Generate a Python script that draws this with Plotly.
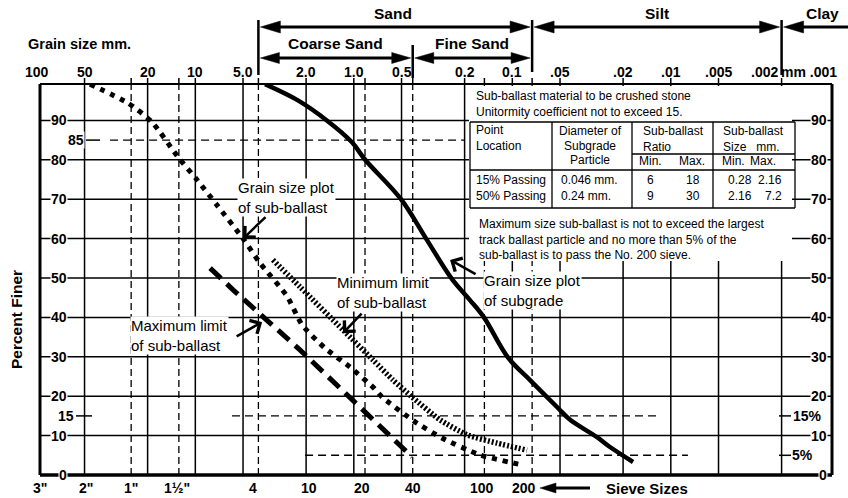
import numpy as np
import plotly.graph_objects as go

FONT = "Liberation Sans, Arial, Helvetica, sans-serif"

# ---------------- data ----------------
# Grain-size scale across the top (mm)
grain_mm = [100, 50, 20, 10, 5, 2, 1, 0.5, 0.2, 0.1, 0.05, 0.02, 0.01, 0.005, 0.002]
grain_labels = ["100", "50", "20", "10", "5.0", "2.0", "1.0", "0.5", "0.2", "0.1",
                ".05", ".02", ".01", ".005", ".002"]

# Sieve sizes along the bottom and their openings (mm)
sieve_names = ['3"', '2"', '1"', '1½"', "4", "10", "20", "40", "100", "200"]
sieve_mm = [95.5, 50.8, 25.4, 12.7, 4.0, 2.0, 0.85, 0.425, 0.15, 0.075]
sieve_label_shift = [0, 3, 0, -2, -5, 3, -3, 0, -2, -8]
sieve_dashed_mm = [25.4, 12.7, 4.0, 0.85, 0.425, 0.15, 0.075]

percent_ticks = [0, 10, 20, 30, 40, 50, 60, 70, 80, 90]

# Soil classification boundaries (mm)
sand_top_mm = 4.0
coarse_fine_mm = 0.425
sand_silt_mm = 0.075
silt_clay_mm = 0.002

# Dashed reference levels: percent, coarse end (mm), fine end (mm)
ref_levels = [85, 15, 5]
ref_from_mm = [34.5, 5.87, 2.03]
ref_to_mm = [0.2, 0.012, 0.0078]

# Gradation curves (grain size mm, percent finer)
subgrade_mm = [3.63, 2.28, 1.48, 1.03, 0.848, 0.504, 0.350, 0.240, 0.185, 0.151,
               0.106, 0.0773, 0.0515, 0.0432, 0.0292, 0.0242, 0.0173]
subgrade_pct = [99.2, 95.2, 90.0, 84.5, 80.0, 70.0, 60.0, 49.7, 44.4, 40.0,
                29.7, 24.1, 17.0, 14.0, 9.6, 7.1, 3.3]

subballast_mm = [46.2, 26.6, 18.8, 12.85, 9.75, 7.30, 5.0, 3.91, 2.64, 2.12, 1.52,
                 1.057, 0.757, 0.664, 0.411, 0.278, 0.160, 0.0856]
subballast_pct = [99.2, 94.4, 89.6, 80.7, 74.9, 68.5, 60.0, 53.8, 45.4, 38.1, 32.2,
                  27.4, 22.3, 19.8, 13.5, 9.4, 5.1, 2.5]

max_limit_mm = [8.07, 5.78, 2.18, 1.057, 0.429]
max_limit_pct = [52.5, 47.0, 31.7, 19.8, 4.6]

min_limit_mm = [3.24, 2.18, 1.17, 0.757, 0.566, 0.429, 0.286, 0.193, 0.125, 0.0808]
min_limit_pct = [54.6, 47.7, 36.8, 29.2, 24.1, 19.8, 14.0, 10.2, 8.1, 6.3]

# Specification table
table_head = [["Point", "Location"], ["Diameter of", "Subgrade", "Particle"],
              ["Sub-ballast", "Ratio"], ["Sub-ballast", "Size   mm."]]
table_rows = ["15% Passing", "50% Passing"]
subgrade_dia = ["0.046 mm.", "0.24 mm."]
ratio_min = ["6", "9"]
ratio_max = ["18", "30"]
size_min = ["0.28", "2.16"]
size_max = ["2.16", "7.2"]
note_top = ["Sub-ballast material to be crushed stone",
            "Unitormity coefficient not to exceed 15."]
note_bottom = ["Maximum size sub-ballast is not to exceed the largest",
               "track ballast particle and no more than 5% of the",
               "sub-ballast is to pass the No. 200 sieve."]

# ---------------- geometry helpers ----------------
W, H = 848, 498
L, R, T, B = 40, 16, 84, 23
PW, PH = W - L - R, H - T - B
XLOG0, XLOG1 = 1.98, -3.017
YMAX = 99.24


def px2p(x):
    return (x - L) / PW


def py2p(y):
    return (H - B - y) / PH


def mm2p(mm):
    return (XLOG0 - np.log10(mm)) / (XLOG0 - XLOG1)


def mm2px(mm):
    return L + PW * mm2p(mm)


def pct2px(p):
    return H - B - PH * p / YMAX


fig = go.Figure()


def seg_trace(xs, ys, width, dash="solid"):
    fig.add_trace(go.Scatter(x=xs, y=ys, mode="lines", hoverinfo="skip",
                             line=dict(color="black", width=width, dash=dash)))


# grid: solid verticals at grain sizes
xs, ys = [], []
for m in grain_mm[1:]:
    xs += [m, m, None]
    ys += [0, YMAX, None]
seg_trace(xs, ys, 1.5)

# grid: solid horizontals every 10 %
xs, ys = [], []
for p in percent_ticks[1:]:
    xs += [10 ** XLOG0, 10 ** XLOG1, None]
    ys += [p, p, None]
seg_trace(xs, ys, 1.5)

# grid: dashed verticals at sieve openings
xs, ys = [], []
for m in sieve_dashed_mm:
    xs += [m, m, None]
    ys += [0, YMAX, None]
seg_trace(xs, ys, 1.3, "7px,4px")

# dashed reference levels
xs, ys = [], []
for p, a, b in zip(ref_levels, ref_from_mm, ref_to_mm):
    xs += [a, b, None]
    ys += [p, p, None]
seg_trace(xs, ys, 1.4, "8px,5px")

# gradation curves
fig.add_trace(go.Scatter(x=subgrade_mm, y=subgrade_pct, mode="lines", hoverinfo="skip",
                         line=dict(color="black", width=4.5, shape="spline", smoothing=1.0)))
fig.add_trace(go.Scatter(x=subballast_mm, y=subballast_pct, mode="lines", hoverinfo="skip",
                         line=dict(color="black", width=5, dash="5px,6px",
                                   shape="spline", smoothing=0.6)))
fig.add_trace(go.Scatter(x=min_limit_mm, y=min_limit_pct, mode="lines", hoverinfo="skip",
                         line=dict(color="black", width=5.5, dash="2px,2px",
                                   shape="spline", smoothing=0.6)))
fig.add_trace(go.Scatter(x=max_limit_mm, y=max_limit_pct, mode="lines", hoverinfo="skip",
                         line=dict(color="black", width=5, dash="15px,8px")))

# ---------------- shapes ----------------
shapes = []


def pline(x0, y0, x1, y1, width=1.5):
    shapes.append(dict(type="line", xref="paper", yref="paper", layer="above",
                       x0=px2p(x0), y0=py2p(y0), x1=px2p(x1), y1=py2p(y1),
                       line=dict(color="black", width=width)))


def head(tx, ty, direction, length=20, half=6):
    # filled triangular arrowhead; direction -1 points left, +1 points right
    bx = tx - direction * length
    path = "M {} {} L {} {} L {} {} Z".format(
        px2p(tx), py2p(ty), px2p(bx), py2p(ty - half), px2p(bx), py2p(ty + half))
    shapes.append(dict(type="path", xref="paper", yref="paper", layer="above", path=path,
                       fillcolor="black", line=dict(color="black", width=0.5)))


# white panel behind the specification table
shapes.append(dict(type="rect", xref="paper", yref="paper", layer="above",
                   x0=px2p(469), x1=px2p(792), y0=py2p(261), y1=py2p(86),
                   fillcolor="white", line=dict(width=0)))

# table rules
TX0, TX1, TY0, TY1 = 470, 795, 122, 208
for (a, b, c, d) in [(TX0, TY0, TX1, TY0), (TX0, TY1, TX1, TY1), (TX0, TY0, TX0, TY1),
                     (TX1, TY0, TX1, TY1), (552, TY0, 552, TY1), (632, TY0, 632, TY1),
                     (713, TY0, 713, TY1), (TX0, 170, TX1, 170), (632, 154, TX1, 154)]:
    pline(a, b, c, d, 1.3)

# frame
pline(L, T, L, H - B, 3)
pline(L, H - B, W - R, H - B, 3.5)
pline(W - R, T, W - R, H - B, 3)
pline(L, T, W - R, T, 2)

# ticks above the frame
for m in grain_mm[1:] + sieve_dashed_mm:
    x = mm2px(m)
    pline(x, T - 6, x, T, 1.5)

# short ticks at the reference labels
pline(86, pct2px(85), 100, pct2px(85), 1.5)
pline(76, pct2px(15), 92, pct2px(15), 1.5)
pline(779, pct2px(15), 791, pct2px(15), 1.5)
pline(779, pct2px(5), 791, pct2px(5), 1.5)

# classification bars and arrows
xs_top, xcf, xss, xsc = mm2px(sand_top_mm), mm2px(coarse_fine_mm), mm2px(sand_silt_mm), mm2px(silt_clay_mm)
pline(xs_top, 20, xs_top, 75, 2.5)
pline(xcf, 45, xcf, 78, 2.5)
pline(xss, 20, xss, 72, 2.5)
pline(xsc, 20, xsc, 75, 2.5)

Y1, Y2 = 27, 58
pline(xs_top + 10, Y1, xss - 10, Y1, 3)
head(xs_top + 2, Y1, -1)
head(xss - 2, Y1, 1)
pline(xss + 10, Y1, xsc - 10, Y1, 3)
head(xss + 2, Y1, -1)
head(xsc - 2, Y1, 1)
pline(xsc + 10, Y1, W, Y1, 3)
head(xsc + 2, Y1, -1)
pline(xs_top + 10, Y2, xcf - 10, Y2, 3)
head(xs_top + 2, Y2, -1, 19, 5.5)
head(xcf - 2, Y2, 1, 19, 5.5)
pline(xcf + 10, Y2, xss - 10, Y2, 3)
head(xcf + 2, Y2, -1, 19, 5.5)
head(xss - 2, Y2, 1, 19, 5.5)

# sieve-size pointer
pline(552, 488, 590, 488, 3)
head(540, 488, -1, 16, 5)

# ---------------- annotations ----------------
ann = []


def txt(x, y, s, size=14, bold=True, xanchor="center", bg=None, angle=0, fam=FONT):
    ann.append(dict(xref="paper", yref="paper", x=px2p(x), y=py2p(y),
                    text="<b>%s</b>" % s if bold else s, showarrow=False,
                    xanchor=xanchor, yanchor="middle", textangle=angle, align="left",
                    font=dict(family=fam, size=size, color="black"),
                    bgcolor=bg if bg else "rgba(0,0,0,0)", borderpad=0))


# grain-size tick labels
for m, lab in zip(grain_mm, grain_labels):
    shift = -17 if lab == ".002" else 0
    txt(mm2px(m) + shift, 72, lab, 14)
txt(838, 72, "mm .001", 14, xanchor="right")
txt(27, 44, "Grain size mm.", 14.5, xanchor="left")

# classification names
txt((xs_top + xss) / 2 - 2, 13, "Sand", 15.5)
txt((xss + xsc) / 2, 13, "Silt", 15.5)
txt(822, 13, "Clay", 15.5)
txt((xs_top + xcf) / 2, 43, "Coarse Sand", 15.5)
txt((xcf + xss) / 2, 43, "Fine Sand", 15.5)

# percent labels, both sides
for p in percent_ticks:
    txt(68, pct2px(p), str(p), 14, xanchor="right", bg="white")
    txt(828, pct2px(p), str(p), 14, xanchor="right", bg="white")
txt(85, pct2px(85), "85", 14, xanchor="right", bg="white")
txt(75, pct2px(15), "15", 14, xanchor="right", bg="white")
txt(792, pct2px(15), "15%", 14, xanchor="left", bg="white")
txt(791, pct2px(5), "5%", 14, xanchor="left", bg="white")
txt(16, 320, "Percent Finer", 15.5, angle=-90)

# sieve labels
for name, m, s in zip(sieve_names, sieve_mm, sieve_label_shift):
    txt(mm2px(m) + s, 488, name, 14, bg="white")
txt(605, 488, "Sieve Sizes", 15, xanchor="left")

# curve labels (two lines each)
for (x, y, s) in [(237, 197, "Grain size plot<br>of sub-ballast"),
                  (336, 292, "Minimum limit<br>of sub-ballast"),
                  (130, 335, "Maximum limit<br>of sub-ballast"),
                  (483, 290, "Grain size plot<br>of subgrade")]:
    txt(x, y, s, 15, bold=False, xanchor="left", bg="white")

# pointers to the curves
for (m, p, ax, ay) in [(5.0, 60.0, 24, -23), (1.17, 36.0, 20, -21),
                       (3.79, 38.8, -27, 15), (0.247, 54.6, 27, 15)]:
    ann.append(dict(xref="x", yref="y", x=np.log10(m), y=p, ax=ax, ay=ay,
                    axref="pixel", ayref="pixel", text="", showarrow=True,
                    arrowhead=4, arrowwidth=2.5, arrowsize=1.2, arrowcolor="black",
                    standoff=0))

# table text
TF = 12


def ttxt(x, y, s, xanchor="center"):
    txt(x, y, s, TF, bold=False, xanchor=xanchor)


ttxt(475, 104, "<br>".join(note_top), "left")
ttxt(475, 138, "<br>".join(table_head[0]), "left")
for j, s in enumerate(table_head[1]):
    ttxt(590, 131 + 14.5 * j, s)
ttxt(673, 139, "<br>".join(table_head[2]))
ttxt(753, 139, "<br>".join(table_head[3]))
ttxt(650, 161, "Min.")
ttxt(692, 161, "Max.")
ttxt(733, 161, "Min.")
ttxt(763, 161, "Max.")
for i in range(2):
    y = 180 + 16 * i
    ttxt(475, y, table_rows[i], "left")
    ttxt(560, y, subgrade_dia[i], "left")
    ttxt(650, y, ratio_min[i])
    ttxt(693, y, ratio_max[i])
    ttxt(727, y, size_min[i], "left")
    ttxt(783, y, size_max[i], "right")
ttxt(478, 239, "<br>".join(note_bottom), "left")

fig.update_layout(
    width=W, height=H, margin=dict(l=L, r=R, t=T, b=B),
    paper_bgcolor="white", plot_bgcolor="white", showlegend=False,
    xaxis=dict(type="log", range=[XLOG0, XLOG1], visible=False),
    yaxis=dict(range=[0, YMAX], visible=False),
    shapes=shapes, annotations=ann,
)

fig.write_html("out.html")
